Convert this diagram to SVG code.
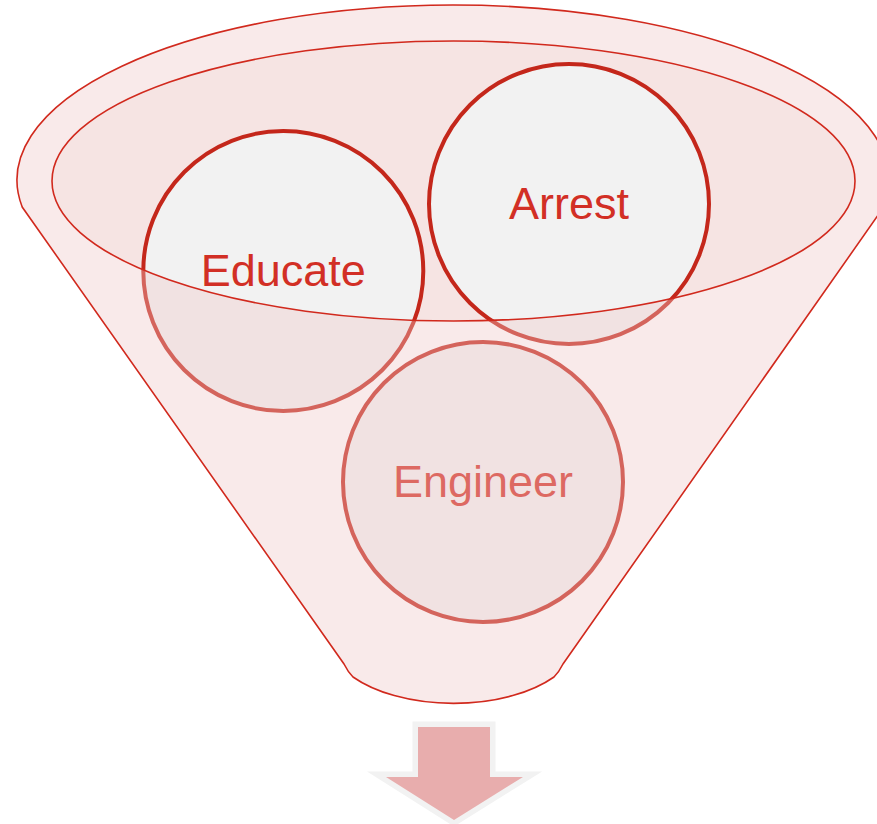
<svg xmlns="http://www.w3.org/2000/svg" width="877" height="824" viewBox="0 0 877 824">
<style>
.circ{fill:#f2f2f2;stroke:#c4271b;stroke-width:4}
.lbl{font-family:"Liberation Sans",Arial,sans-serif;font-size:45px;fill:#d22f25;text-anchor:middle}
.edge{fill:none;stroke:#d1291d;stroke-width:1.6}
</style>
<rect width="877" height="824" fill="#ffffff"/>
<g id="funnel-mouth">
<ellipse cx="453.5" cy="181" rx="401.5" ry="140" fill="#f6e4e3"/>
</g>
<g id="educate">
<circle class="circ" cx="283.3" cy="271" r="140"/>
<text class="lbl" x="283.3" y="286">Educate</text>
</g>
<g id="arrest">
<circle class="circ" cx="569" cy="204" r="140"/>
<text class="lbl" x="569" y="219">Arrest</text>
</g>
<g id="engineer">
<circle class="circ" cx="483" cy="482" r="140"/>
<text class="lbl" x="483" y="497">Engineer</text>
</g>
<g id="funnel-body">
<path fill="#f0c9c9" fill-opacity="0.38" fill-rule="evenodd" d="M22.2,207 A436,175 0 1 1 883.8,207 L563,664 Q559,672 554,677 A125,65 0 0 1 353,677 Q348,672 344,664 Z M52,181 A401.5,140 0 1 0 855,181 A401.5,140 0 1 0 52,181 Z"/>
<path class="edge" d="M22.2,207 A436,175 0 1 1 883.8,207 L563,664 Q559,672 554,677 A125,65 0 0 1 353,677 Q348,672 344,664 Z"/>
<ellipse class="edge" cx="453.5" cy="181" rx="401.5" ry="140"/>
</g>
<g id="connectors">
<polygon points="418,727 490,727 490,777 523,777 454,820 386,777 418,777" fill="#e8adad" stroke="#f2f2f2" stroke-width="11" stroke-linejoin="miter" stroke-miterlimit="10" paint-order="stroke"/>
</g>
</svg>
